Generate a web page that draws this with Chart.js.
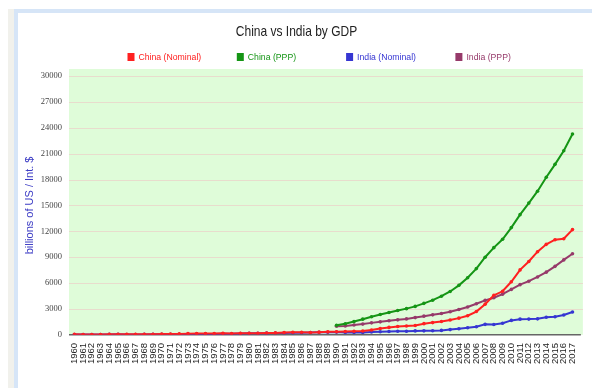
<!DOCTYPE html>
<html><head><meta charset="utf-8">
<script src="https://cdn.jsdelivr.net/npm/chart.js@4.4.0/dist/chart.umd.min.js"></script>
<style>
html,body{margin:0;padding:0;background:#fff;width:592px;height:388px;overflow:hidden}
#gray{position:absolute;left:8px;top:9px;width:600px;height:400px;background:#f1f1ec}
#panel{position:absolute;left:14px;top:9px;width:600px;height:400px;background:#fff;border-left:4px solid #d6e5f7;border-top:4px solid #d6e5f7}
#wrap{position:absolute;left:0;top:0;width:592px;height:388px}
</style></head>
<body>
<div id="gray"></div><div id="panel"></div>
<div id="wrap"><canvas id="c" width="592" height="388"></canvas></div>
<script>
const titleText = 'China vs India by GDP';
const yTitle = 'billions of US / Int. $';
const years = ['1960','1961','1962','1963','1964','1965','1966','1967','1968','1969',
 '1970','1971','1972','1973','1974','1975','1976','1977','1978','1979',
 '1980','1981','1982','1983','1984','1985','1986','1987','1988','1989',
 '1990','1991','1992','1993','1994','1995','1996','1997','1998','1999',
 '2000','2001','2002','2003','2004','2005','2006','2007','2008','2009',
 '2010','2011','2012','2013','2014','2015','2016','2017'];
const yTicks = [0,3000,6000,9000,12000,15000,18000,21000,24000,27000,30000];
const seriesNames = ['China (Nominal)','China (PPP)','India (Nominal)','India (PPP)'];
const seriesColors = ['#ff2020','#159515','#3636d2','#963a6a'];

const chinaNominal = [59.7,50.1,47.2,50.7,59.7,70.4,76.7,72.9,70.8,79.7,
 92.6,99.8,113.7,138.5,144.2,163.4,153.9,174.9,149.5,178.3,
 191.1,195.9,205.1,230.7,259.9,309.5,300.8,272.9,312.4,347.8,
 361,383,427,445,564,735,864,962,1029,1094,
 1300,1420,1550,1720,1940,2220,2700,3560,4590,5050,
 6150,7530,8500,9640,10490,11030,11140,12200];
const chinaPPP = [null,null,null,null,null,null,null,null,null,null,
 null,null,null,null,null,null,null,null,null,null,
 null,null,null,null,null,null,null,null,null,null,
 1120,1290,1540,1820,2100,2360,2600,2830,3040,3300,
 3650,4020,4480,5030,5740,6620,7680,9000,10110,11080,
 12430,13930,15270,16650,18260,19760,21330,23270];
const indiaNominal = [37.0,39.2,42.2,48.4,56.5,59.6,45.9,50.1,53.1,58.4,
 62.4,67.4,71.5,85.5,99.5,98.5,102.7,121.5,137.3,153.0,
 186.3,193.5,200.7,218.3,212.2,232.5,249.0,279.0,296.6,296.0,
 321,270,288,279,327,360,393,416,421,459,
 468,485,515,608,709,820,940,1217,1199,1342,
 1676,1823,1828,1857,2039,2104,2295,2653];
const indiaPPP = [null,null,null,null,null,null,null,null,null,null,
 null,null,null,null,null,null,null,null,null,null,
 null,null,null,null,null,null,null,null,null,null,
 1000,1040,1140,1250,1390,1510,1630,1740,1850,2000,
 2170,2320,2470,2680,2940,3230,3600,4000,4300,4720,
 5270,5820,6220,6710,7270,7940,8690,9400];

const seriesData = [chinaNominal, chinaPPP, indiaNominal, indiaPPP];

const bgPlugin = {
  id: 'bg',
  beforeDatasetsDraw(chart) {
    const {ctx, chartArea: a, scales: {y}} = chart;
    ctx.save();
    ctx.fillStyle = '#dffcd9';
    ctx.fillRect(a.left - 1, a.top - 7, a.right - a.left + 7, a.bottom - a.top + 7);
    ctx.strokeStyle = '#e8dccd';
    ctx.lineWidth = 1.2;
    yTicks.forEach(v => {
      if (v === 0) return;
      const py = Math.round(y.getPixelForValue(v)) + 0.5;
      ctx.beginPath(); ctx.moveTo(a.left - 1, py); ctx.lineTo(a.right + 6, py); ctx.stroke();
    });
    ctx.strokeStyle = '#666';
    ctx.lineWidth = 1.5;
    const by = y.getPixelForValue(0);
    ctx.beginPath(); ctx.moveTo(a.left - 1, by); ctx.lineTo(a.right + 4, by); ctx.stroke();
    ctx.restore();
  }
};

const headerPlugin = {
  id: 'header',
  afterDraw(chart) {
    const ctx = chart.ctx;
    ctx.save();
    // title, drawn slightly condensed
    ctx.font = '15px "Liberation Sans", Arial, sans-serif';
    ctx.fillStyle = '#222';
    ctx.textAlign = 'center';
    ctx.textBaseline = 'middle';
    ctx.translate(chart.width / 2 + 0.5, 31.5);
    ctx.scale(0.8, 1);
    ctx.fillText(titleText, 0, 0);
    ctx.restore();

    ctx.save();
    const start = chart.width / 2 - 168.5;
    const slot = 109.3;
    ctx.font = '8.7px "Liberation Sans", Arial, sans-serif';
    ctx.textBaseline = 'middle';
    ctx.textAlign = 'left';
    chart.data.datasets.forEach((ds, i) => {
      const x = start + i * slot;
      ctx.fillStyle = ds.borderColor;
      ctx.fillRect(x, 53, 7, 8);
      ctx.fillText(ds.label, x + 11, 57.5);
    });
    ctx.restore();
  }
};

new Chart(document.getElementById('c'), {
  type: 'line',
  data: {
    labels: years,
    datasets: seriesNames.map((n, i) => ({
      label: n,
      data: seriesData[i],
      borderColor: seriesColors[i],
      backgroundColor: seriesColors[i],
      borderWidth: 2,
      pointRadius: 1.8,
      pointBorderWidth: 0,
      pointHoverRadius: 2,
      tension: 0,
      spanGaps: false,
      fill: false
    }))
  },
  options: {
    responsive: false,
    animation: false,
    layout: { padding: { left: 0, right: 12, top: 76, bottom: 16 } },
    plugins: {
      legend: { display: false },
      tooltip: { enabled: false },
      title: { display: false }
    },
    scales: {
      x: {
        offset: true,
        grid: { display: false, drawTicks: false },
        border: { display: false },
        ticks: {
          autoSkip: false, minRotation: 90, maxRotation: 90, padding: 8,
          color: '#222', font: { family: '"Liberation Sans", Arial, sans-serif', size: 9.5 }
        }
      },
      y: {
        min: 0, max: 30000,
        afterBuildTicks(s) { s.ticks = yTicks.map(v => ({ value: v })); },
        afterFit(s) { s.width = 70; },
        grid: { display: false, drawTicks: false },
        border: { display: false },
        ticks: {
          padding: 8, color: '#444',
          callback: v => String(v),
          font: { family: '"Liberation Serif", "Times New Roman", serif', size: 8.5 }
        },
        title: {
          display: true, text: yTitle, color: '#3b3bc4',
          font: { family: '"Liberation Sans", Arial, sans-serif', size: 11 },
          padding: { top: 23, bottom: 0 }
        }
      }
    }
  },
  plugins: [bgPlugin, headerPlugin]
});
</script>
</body></html>
